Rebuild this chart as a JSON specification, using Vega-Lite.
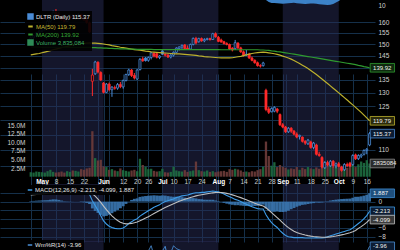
{
"$schema": "https://vega.github.io/schema/vega-lite/v6.json",
"width": 375, "height": 250,
"autosize": {"type": "none"},
"padding": {"left": 0, "top": 0, "right": 25, "bottom": 0},
"background": "#000000",
"config": {
  "view": {"stroke": null},
  "font": "Liberation Sans",
  "axis": {"ticks": false, "domain": false, "labelFont": "Liberation Sans", "labelFontSize": 6.5, "labelColor": "#d2d2d2", "gridColor": "#15304a", "gridWidth": 1, "labelOverlap": false, "labelFlush": false, "labelBound": false},
  "legend": {"labelFont": "Liberation Sans", "labelFontSize": 6, "padding": 2, "rowPadding": -7, "symbolSize": 20, "labelOffset": 2, "labelLimit": 300, "fillColor": "rgba(0,0,0,0.9)", "zindex": 1}
},
"datasets": {
"bands": [{"s":0,"e":22},{"s":43,"e":63},{"s":86,"e":106}],
"tags": [
{"g":"p","i":117,"v":139.92,"t":"139.92","k":"ma200"},
{"g":"p","i":117,"v":119.79,"t":"119.79","k":"ma50"},
{"g":"p","i":117,"v":115.37,"t":"115.37","k":"close"},
{"g":"v","i":117,"v":3835084,"t":"3835084","k":"vol"},
{"g":"m","i":117,"v":1.887,"t":"1.887","k":"hist"},
{"g":"m","i":117,"v":-2.213,"t":"-2.213","k":"macd"},
{"g":"m","i":117,"v":-4.099,"t":"-4.099","k":"sig"},
{"g":"w","i":117,"v":-3.96,"t":"-3.96","k":"wr"}
],
"p": [
{"i":-4,"o":152,"h":153.5,"l":150.8,"c":152.8,"v":1300000,"ma50":145.3,"ma200":148.7,"macd":1.6,"sig":1.5,"hist":0.1,"wr":-20,"top":25},
{"i":-3,"o":152.8,"h":154.2,"l":152,"c":153.6,"v":1200000,"ma50":145.5,"ma200":148.7,"macd":1.7,"sig":1.55,"hist":0.15,"wr":-18,"top":25},
{"i":-2,"o":153.6,"h":155.4,"l":153,"c":155,"v":1500000,"ma50":145.7,"ma200":148.7,"macd":1.8,"sig":1.6,"hist":0.2,"wr":-15,"top":25},
{"i":-1,"o":155,"h":156.3,"l":154.2,"c":155.8,"v":1400000,"ma50":145.9,"ma200":148.7,"macd":1.9,"sig":1.66,"hist":0.24,"wr":-14,"top":25},
{"i":0,"o":155.8,"h":157.6,"l":155.2,"c":157,"v":1300000,"ma50":146.2,"ma200":148.6,"macd":2.0,"sig":1.73,"hist":0.27,"wr":-13,"top":25},
{"i":1,"o":157,"h":158.6,"l":156,"c":158.2,"v":1200000,"ma50":146.5,"ma200":148.6,"macd":2.1,"sig":1.8,"hist":0.3,"wr":-13,"top":25},
{"i":2,"o":158,"h":161,"l":157.5,"c":160.4,"v":1600000,"ma50":146.8,"ma200":148.6,"macd":2.2,"sig":1.88,"hist":0.32,"wr":-12,"top":25},
{"i":3,"o":160.4,"h":163.5,"l":159.8,"c":162.9,"v":2000000,"ma50":147.1,"ma200":148.6,"macd":2.4,"sig":1.98,"hist":0.42,"wr":-12,"top":25},
{"i":4,"o":163,"h":165.4,"l":162.4,"c":164.6,"v":1400000,"ma50":147.5,"ma200":148.6,"macd":2.6,"sig":2.1,"hist":0.5,"wr":-13,"top":25},
{"i":5,"o":164.5,"h":166.2,"l":163.2,"c":163.8,"v":1200000,"ma50":147.8,"ma200":148.6,"macd":2.7,"sig":2.22,"hist":0.48,"wr":-18,"top":25},
{"i":6,"o":163.8,"h":164.6,"l":161.5,"c":162,"v":1300000,"ma50":148.1,"ma200":148.6,"macd":2.7,"sig":2.32,"hist":0.38,"wr":-30,"top":25},
{"i":7,"o":162,"h":163.4,"l":160.6,"c":161.2,"v":1500000,"ma50":148.4,"ma200":148.6,"macd":2.6,"sig":2.37,"hist":0.23,"wr":-40,"top":25},
{"i":8,"o":161.2,"h":162.5,"l":159.8,"c":160.3,"v":1200000,"ma50":148.7,"ma200":148.5,"macd":2.5,"sig":2.4,"hist":0.1,"wr":-50,"top":25},
{"i":9,"o":160.3,"h":162.2,"l":159.9,"c":161.7,"v":1600000,"ma50":149.0,"ma200":148.5,"macd":2.5,"sig":2.42,"hist":0.08,"wr":-35,"top":25},
{"i":10,"o":161.7,"h":163.6,"l":161,"c":162.9,"v":1400000,"ma50":149.3,"ma200":148.5,"macd":2.5,"sig":2.44,"hist":0.06,"wr":-20,"top":25},
{"i":11,"o":162.9,"h":163.8,"l":161.2,"c":161.8,"v":1800000,"ma50":149.6,"ma200":148.5,"macd":2.4,"sig":2.43,"hist":-0.03,"wr":-35,"top":25},
{"i":12,"o":161.8,"h":163.4,"l":161,"c":162.8,"v":1700000,"ma50":149.8,"ma200":148.5,"macd":2.4,"sig":2.42,"hist":-0.02,"wr":-25,"top":25},
{"i":13,"o":162.8,"h":164.2,"l":162,"c":163.5,"v":1500000,"ma50":150.0,"ma200":148.5,"macd":2.4,"sig":2.42,"hist":-0.02,"wr":-18,"top":25},
{"i":14,"o":163.5,"h":164,"l":161.8,"c":162.4,"v":2200000,"ma50":150.2,"ma200":148.5,"macd":2.3,"sig":2.4,"hist":-0.1,"wr":-30,"top":25},
{"i":15,"o":162.4,"h":162.9,"l":160.6,"c":161,"v":2000000,"ma50":150.3,"ma200":148.5,"macd":2.2,"sig":2.36,"hist":-0.16,"wr":-40,"top":25},
{"i":16,"o":161,"h":161.6,"l":159.2,"c":159.8,"v":2400000,"ma50":150.4,"ma200":148.5,"macd":2.0,"sig":2.29,"hist":-0.29,"wr":-55,"top":25},
{"i":17,"o":159.6,"h":160.2,"l":155,"c":155.4,"v":2600000,"ma50":150.5,"ma200":148.5,"macd":1.6,"sig":2.15,"hist":-0.55,"wr":-80,"top":25},
{"i":18,"o":134.5,"h":139.5,"l":128.8,"c":137,"v":13200000,"ma50":150.4,"ma200":148.4,"macd":0.2,"sig":1.76,"hist":-1.56,"wr":-85,"top":25},
{"i":19,"o":137.5,"h":142.8,"l":137,"c":142.3,"v":5400000,"ma50":150.4,"ma200":148.4,"macd":-0.9,"sig":1.23,"hist":-2.13,"wr":-60,"top":25},
{"i":20,"o":142.2,"h":142.6,"l":137.6,"c":138.2,"v":4700000,"ma50":150.3,"ma200":148.3,"macd":-2.0,"sig":0.58,"hist":-2.58,"wr":-75,"top":25},
{"i":21,"o":138,"h":138.5,"l":134.6,"c":135,"v":4900000,"ma50":150.2,"ma200":148.3,"macd":-3.2,"sig":-0.17,"hist":-3.03,"wr":-85,"top":25},
{"i":22,"o":133.8,"h":134.2,"l":129.8,"c":130.2,"v":3000000,"ma50":150.0,"ma200":148.2,"macd":-4.4,"sig":-1.02,"hist":-3.38,"wr":-95,"top":25},
{"i":23,"o":130.2,"h":133.8,"l":129.9,"c":133.4,"v":2800000,"ma50":149.8,"ma200":148.2,"macd":-5.1,"sig":-1.84,"hist":-3.26,"wr":-75,"top":25},
{"i":24,"o":133.4,"h":134,"l":130.6,"c":131.2,"v":2000000,"ma50":149.6,"ma200":148.1,"macd":-5.6,"sig":-2.59,"hist":-3.01,"wr":-85,"top":25},
{"i":25,"o":131.2,"h":132.6,"l":128.5,"c":132.2,"v":2200000,"ma50":149.3,"ma200":148.1,"macd":-5.9,"sig":-3.25,"hist":-2.65,"wr":-70,"top":25},
{"i":26,"o":132,"h":132.8,"l":131.2,"c":131.8,"v":1800000,"ma50":149.1,"ma200":148.0,"macd":-6.1,"sig":-3.82,"hist":-2.28,"wr":-72,"top":25},
{"i":27,"o":131.8,"h":133.8,"l":131.2,"c":133.2,"v":1600000,"ma50":148.9,"ma200":148.0,"macd":-6.2,"sig":-4.3,"hist":-1.9,"wr":-60,"top":25},
{"i":28,"o":133.2,"h":134.2,"l":131.8,"c":132.4,"v":2400000,"ma50":148.6,"ma200":147.9,"macd":-6.2,"sig":-4.68,"hist":-1.52,"wr":-65,"top":25},
{"i":29,"o":132.3,"h":135.2,"l":131.6,"c":134.8,"v":1900000,"ma50":148.4,"ma200":147.9,"macd":-6.0,"sig":-4.94,"hist":-1.06,"wr":-45,"top":25},
{"i":30,"o":134.8,"h":137.5,"l":134.4,"c":137.2,"v":1700000,"ma50":148.2,"ma200":147.9,"macd":-5.6,"sig":-5.07,"hist":-0.53,"wr":-30,"top":25},
{"i":31,"o":137.2,"h":139.5,"l":136.6,"c":139,"v":1500000,"ma50":148.0,"ma200":147.8,"macd":-5.0,"sig":-5.06,"hist":0.06,"wr":-20,"top":25},
{"i":32,"o":139,"h":139.4,"l":136.2,"c":136.8,"v":1800000,"ma50":147.8,"ma200":147.8,"macd":-4.6,"sig":-4.97,"hist":0.37,"wr":-35,"top":25},
{"i":33,"o":136.8,"h":137.8,"l":135.2,"c":135.8,"v":2000000,"ma50":147.6,"ma200":147.8,"macd":-4.2,"sig":-4.82,"hist":0.62,"wr":-40,"top":25},
{"i":34,"o":135.4,"h":139.4,"l":135,"c":139,"v":1600000,"ma50":147.4,"ma200":147.7,"macd":-3.9,"sig":-4.63,"hist":0.73,"wr":-20,"top":25},
{"i":35,"o":139.2,"h":144,"l":138.8,"c":143.4,"v":5200000,"ma50":147.3,"ma200":147.7,"macd":-3.3,"sig":-4.37,"hist":1.07,"wr":-12,"top":25},
{"i":36,"o":143.6,"h":144.5,"l":142.4,"c":142.8,"v":3400000,"ma50":147.1,"ma200":147.7,"macd":-2.9,"sig":-4.07,"hist":1.17,"wr":-18,"top":25},
{"i":37,"o":144,"h":144.4,"l":142.5,"c":142.9,"v":2900000,"ma50":146.9,"ma200":147.7,"macd":-2.5,"sig":-3.76,"hist":1.26,"wr":-20,"top":25},
{"i":38,"o":143,"h":144.6,"l":142.4,"c":144.2,"v":2200000,"ma50":146.8,"ma200":147.7,"macd":-2.1,"sig":-3.43,"hist":1.33,"wr":-12,"top":25},
{"i":39,"o":144.2,"h":146.6,"l":143.4,"c":146.2,"v":2300000,"ma50":146.6,"ma200":147.7,"macd":-1.7,"sig":-3.08,"hist":1.38,"wr":-3,"top":25},
{"i":40,"o":146,"h":146.4,"l":144.2,"c":144.8,"v":1700000,"ma50":146.5,"ma200":147.6,"macd":-1.3,"sig":-2.73,"hist":1.43,"wr":-20,"top":25},
{"i":41,"o":145.8,"h":146.2,"l":143.8,"c":144.3,"v":1500000,"ma50":146.4,"ma200":147.6,"macd":-1.0,"sig":-2.38,"hist":1.38,"wr":-25,"top":25},
{"i":42,"o":144.2,"h":145.2,"l":143.5,"c":144.8,"v":1600000,"ma50":146.3,"ma200":147.6,"macd":-0.7,"sig":-2.04,"hist":1.34,"wr":-18,"top":25},
{"i":43,"o":147,"h":147.6,"l":145.2,"c":145.6,"v":2300000,"ma50":146.2,"ma200":147.6,"macd":-0.3,"sig":-1.7,"hist":1.4,"wr":-12,"top":25},
{"i":44,"o":145.6,"h":146,"l":144.6,"c":145.2,"v":1300000,"ma50":146.1,"ma200":147.6,"macd":0,"sig":-1.36,"hist":1.36,"wr":-4,"top":25},
{"i":45,"o":145.2,"h":145.8,"l":144,"c":144.4,"v":1200000,"ma50":146.0,"ma200":147.6,"macd":0.2,"sig":-1.05,"hist":1.25,"wr":-25,"top":25},
{"i":46,"o":144.4,"h":145.6,"l":143.8,"c":145.2,"v":1400000,"ma50":145.9,"ma200":147.6,"macd":0.4,"sig":-0.76,"hist":1.16,"wr":-15,"top":25},
{"i":47,"o":145.2,"h":146.8,"l":144.6,"c":146.4,"v":2900000,"ma50":145.8,"ma200":147.6,"macd":0.6,"sig":-0.49,"hist":1.09,"wr":-3,"top":25},
{"i":48,"o":146.4,"h":148.6,"l":146,"c":148.2,"v":1800000,"ma50":145.7,"ma200":147.6,"macd":0.9,"sig":-0.21,"hist":1.11,"wr":-8,"top":25},
{"i":49,"o":148,"h":149,"l":147.2,"c":148.7,"v":1600000,"ma50":145.7,"ma200":147.6,"macd":1.1,"sig":0.05,"hist":1.05,"wr":-10,"top":25},
{"i":50,"o":148.7,"h":149.8,"l":147.8,"c":149.4,"v":1500000,"ma50":145.6,"ma200":147.6,"macd":1.3,"sig":0.3,"hist":1.0,"wr":-12,"top":25},
{"i":51,"o":149.6,"h":150,"l":147.6,"c":148,"v":1900000,"ma50":145.5,"ma200":147.6,"macd":1.4,"sig":0.52,"hist":0.88,"wr":-20,"top":25},
{"i":52,"o":148.2,"h":149.4,"l":147.4,"c":147.8,"v":1400000,"ma50":145.4,"ma200":147.6,"macd":1.5,"sig":0.72,"hist":0.78,"wr":-25,"top":25},
{"i":53,"o":147.8,"h":150.2,"l":147.4,"c":149.8,"v":1600000,"ma50":145.3,"ma200":147.6,"macd":1.7,"sig":0.91,"hist":0.79,"wr":-15,"top":25},
{"i":54,"o":149.8,"h":152.9,"l":149.4,"c":152.5,"v":1800000,"ma50":145.2,"ma200":147.6,"macd":1.9,"sig":1.11,"hist":0.79,"wr":-12,"top":25},
{"i":55,"o":152.5,"h":153.2,"l":149.8,"c":150.5,"v":4400000,"ma50":145.1,"ma200":147.6,"macd":2.0,"sig":1.29,"hist":0.71,"wr":-30,"top":25},
{"i":56,"o":151,"h":152.8,"l":150.6,"c":152.4,"v":1900000,"ma50":144.9,"ma200":147.6,"macd":2.0,"sig":1.43,"hist":0.57,"wr":-15,"top":25},
{"i":57,"o":152.4,"h":152.9,"l":151,"c":151.4,"v":1600000,"ma50":144.8,"ma200":147.6,"macd":2.1,"sig":1.57,"hist":0.53,"wr":-20,"top":25},
{"i":58,"o":151.4,"h":152.6,"l":150.8,"c":152,"v":1500000,"ma50":144.6,"ma200":147.6,"macd":2.1,"sig":1.67,"hist":0.43,"wr":-15,"top":25},
{"i":59,"o":152,"h":152.8,"l":151.6,"c":152.4,"v":1800000,"ma50":144.5,"ma200":147.6,"macd":2.2,"sig":1.78,"hist":0.42,"wr":-14,"top":25},
{"i":60,"o":152.4,"h":152.8,"l":151.6,"c":151.9,"v":1400000,"ma50":144.4,"ma200":147.6,"macd":2.3,"sig":1.88,"hist":0.42,"wr":-18,"top":25},
{"i":61,"o":152,"h":155,"l":151.8,"c":154.6,"v":1600000,"ma50":144.3,"ma200":147.6,"macd":2.4,"sig":1.99,"hist":0.41,"wr":-12,"top":25},
{"i":62,"o":154.6,"h":155.2,"l":152.8,"c":153.2,"v":1300000,"ma50":144.2,"ma200":147.6,"macd":2.3,"sig":2.05,"hist":0.25,"wr":-15,"top":25},
{"i":63,"o":153,"h":153.6,"l":150.8,"c":151.2,"v":1500000,"ma50":144.1,"ma200":147.6,"macd":2.2,"sig":2.08,"hist":0.12,"wr":-35,"top":25},
{"i":64,"o":151.8,"h":152.4,"l":150.6,"c":150.9,"v":1600000,"ma50":144.0,"ma200":147.5,"macd":2.0,"sig":2.06,"hist":-0.06,"wr":-40,"top":25},
{"i":65,"o":151,"h":151.4,"l":149.8,"c":150.2,"v":1700000,"ma50":144.0,"ma200":147.5,"macd":1.7,"sig":1.99,"hist":-0.29,"wr":-50,"top":25},
{"i":66,"o":150.2,"h":150.8,"l":149.4,"c":149.8,"v":1400000,"ma50":144.0,"ma200":147.5,"macd":1.4,"sig":1.87,"hist":-0.47,"wr":-55,"top":25},
{"i":67,"o":149.8,"h":150.2,"l":147.4,"c":147.8,"v":2200000,"ma50":144.0,"ma200":147.5,"macd":1.1,"sig":1.72,"hist":-0.62,"wr":-70,"top":25},
{"i":68,"o":148.2,"h":148.6,"l":146.8,"c":147.4,"v":2000000,"ma50":144.1,"ma200":147.5,"macd":0.8,"sig":1.53,"hist":-0.73,"wr":-75,"top":25},
{"i":69,"o":148,"h":151.8,"l":147.4,"c":150.6,"v":2300000,"ma50":144.3,"ma200":147.5,"macd":0.5,"sig":1.33,"hist":-0.83,"wr":-55,"top":25},
{"i":70,"o":150.4,"h":150.8,"l":147.8,"c":148.3,"v":2100000,"ma50":144.5,"ma200":147.5,"macd":0.3,"sig":1.12,"hist":-0.82,"wr":-70,"top":25},
{"i":71,"o":148.3,"h":148.8,"l":146.2,"c":146.6,"v":1800000,"ma50":144.7,"ma200":147.5,"macd":0,"sig":0.9,"hist":-0.9,"wr":-85,"top":25},
{"i":72,"o":146.6,"h":147.2,"l":144.6,"c":145,"v":1400000,"ma50":145.0,"ma200":147.5,"macd":-0.3,"sig":0.66,"hist":-0.96,"wr":-92,"top":25},
{"i":73,"o":145.2,"h":147.4,"l":144.8,"c":145.6,"v":1500000,"ma50":145.3,"ma200":147.5,"macd":-0.6,"sig":0.41,"hist":-1.01,"wr":-85,"top":25},
{"i":74,"o":145.6,"h":146.2,"l":143.6,"c":144,"v":1300000,"ma50":145.6,"ma200":147.5,"macd":-0.9,"sig":0.15,"hist":-1.05,"wr":-90,"top":25},
{"i":75,"o":144,"h":144.6,"l":142.6,"c":143,"v":1600000,"ma50":145.9,"ma200":147.5,"macd":-1.2,"sig":-0.12,"hist":-1.08,"wr":-92,"top":25},
{"i":76,"o":143,"h":143.4,"l":141.6,"c":142,"v":1500000,"ma50":146.1,"ma200":147.5,"macd":-1.4,"sig":-0.38,"hist":-1.02,"wr":-94,"top":25},
{"i":77,"o":142,"h":142.5,"l":140.4,"c":140.8,"v":1900000,"ma50":146.3,"ma200":147.5,"macd":-1.6,"sig":-0.62,"hist":-0.98,"wr":-95,"top":25},
{"i":78,"o":140.8,"h":141.4,"l":140,"c":140.6,"v":2200000,"ma50":146.4,"ma200":147.4,"macd":-1.7,"sig":-0.84,"hist":-0.86,"wr":-92,"top":25},
{"i":79,"o":140.8,"h":142.4,"l":140.4,"c":141.9,"v":2900000,"ma50":146.5,"ma200":147.4,"macd":-1.7,"sig":-1.01,"hist":-0.69,"wr":-85,"top":25},
{"i":80,"o":131,"h":131.6,"l":123.2,"c":123.8,"v":10200000,"ma50":146.4,"ma200":147.3,"macd":-3.0,"sig":-1.41,"hist":-1.59,"wr":-95,"top":15},
{"i":81,"o":124,"h":124.8,"l":122.2,"c":122.8,"v":6000000,"ma50":146.2,"ma200":147.2,"macd":-4.0,"sig":-1.93,"hist":-2.07,"wr":-96,"top":13},
{"i":82,"o":123,"h":124.6,"l":122.8,"c":124.2,"v":3200000,"ma50":146.0,"ma200":147.0,"macd":-4.8,"sig":-2.5,"hist":-2.3,"wr":-85,"top":12},
{"i":83,"o":123.2,"h":125,"l":122.8,"c":124.6,"v":4200000,"ma50":145.8,"ma200":146.9,"macd":-5.4,"sig":-3.08,"hist":-2.32,"wr":-80,"top":12},
{"i":84,"o":124,"h":124.4,"l":122.5,"c":123.2,"v":2800000,"ma50":145.5,"ma200":146.7,"macd":-5.9,"sig":-3.65,"hist":-2.25,"wr":-85,"top":11.8},
{"i":85,"o":122,"h":122.4,"l":118,"c":118.4,"v":3400000,"ma50":145.2,"ma200":146.6,"macd":-6.6,"sig":-4.24,"hist":-2.36,"wr":-95,"top":11.5},
{"i":86,"o":118.4,"h":119,"l":117.2,"c":117.6,"v":2900000,"ma50":144.8,"ma200":146.4,"macd":-7.2,"sig":-4.83,"hist":-2.37,"wr":-96,"top":11.2},
{"i":87,"o":117.6,"h":118,"l":115.6,"c":116,"v":2600000,"ma50":144.4,"ma200":146.2,"macd":-7.7,"sig":-5.4,"hist":-2.3,"wr":-97,"top":11.4},
{"i":88,"o":116,"h":117.6,"l":115.6,"c":117.2,"v":2100000,"ma50":144.0,"ma200":146.0,"macd":-8.0,"sig":-5.92,"hist":-2.08,"wr":-85,"top":11.8},
{"i":89,"o":117.2,"h":117.6,"l":115.6,"c":116.2,"v":2400000,"ma50":143.5,"ma200":145.8,"macd":-8.1,"sig":-6.36,"hist":-1.74,"wr":-90,"top":12},
{"i":90,"o":116.2,"h":116.6,"l":114.8,"c":115.2,"v":2200000,"ma50":142.9,"ma200":145.6,"macd":-8.2,"sig":-6.73,"hist":-1.47,"wr":-93,"top":12.2},
{"i":91,"o":115.2,"h":115.8,"l":113.8,"c":114.2,"v":2800000,"ma50":142.3,"ma200":145.4,"macd":-8.2,"sig":-7.02,"hist":-1.18,"wr":-95,"top":11.8},
{"i":92,"o":114.4,"h":115,"l":113.4,"c":114.8,"v":2000000,"ma50":141.7,"ma200":145.2,"macd":-8.2,"sig":-7.26,"hist":-0.94,"wr":-85,"top":11.4},
{"i":93,"o":114.2,"h":114.4,"l":112.4,"c":112.8,"v":2600000,"ma50":141.0,"ma200":145.0,"macd":-8.2,"sig":-7.45,"hist":-0.75,"wr":-96,"top":11.2},
{"i":94,"o":112.8,"h":113.2,"l":111.6,"c":112.2,"v":2200000,"ma50":140.3,"ma200":144.8,"macd":-8.3,"sig":-7.62,"hist":-0.68,"wr":-95,"top":11},
{"i":95,"o":112,"h":113.6,"l":111.6,"c":113.2,"v":2800000,"ma50":139.6,"ma200":144.6,"macd":-8.3,"sig":-7.75,"hist":-0.55,"wr":-80,"top":11.2},
{"i":96,"o":112.6,"h":113,"l":110.4,"c":110.8,"v":2400000,"ma50":138.8,"ma200":144.4,"macd":-8.3,"sig":-7.86,"hist":-0.44,"wr":-95,"top":11.4},
{"i":97,"o":110.8,"h":112.6,"l":110.2,"c":112.2,"v":2200000,"ma50":138.0,"ma200":144.2,"macd":-8.3,"sig":-7.95,"hist":-0.35,"wr":-75,"top":11.6},
{"i":98,"o":111.6,"h":112,"l":108.2,"c":108.6,"v":2700000,"ma50":137.2,"ma200":144.0,"macd":-8.2,"sig":-8.0,"hist":-0.2,"wr":-96,"top":11.2},
{"i":99,"o":108.6,"h":109.4,"l":107.8,"c":108.2,"v":2300000,"ma50":136.3,"ma200":143.8,"macd":-8.3,"sig":-8.06,"hist":-0.24,"wr":-95,"top":10.8},
{"i":100,"o":107.6,"h":108,"l":104.2,"c":104.6,"v":3000000,"ma50":135.4,"ma200":143.6,"macd":-8.3,"sig":-8.11,"hist":-0.19,"wr":-97,"top":10.4},
{"i":101,"o":104.4,"h":106.4,"l":104,"c":106,"v":4400000,"ma50":134.5,"ma200":143.4,"macd":-8.2,"sig":-8.13,"hist":-0.07,"wr":-80,"top":10.2},
{"i":102,"o":106,"h":106.6,"l":104.8,"c":105.2,"v":3200000,"ma50":133.6,"ma200":143.2,"macd":-8.0,"sig":-8.1,"hist":0.1,"wr":-85,"top":10},
{"i":103,"o":105,"h":106.8,"l":104.6,"c":106.4,"v":4000000,"ma50":132.7,"ma200":143.0,"macd":-7.8,"sig":-8.04,"hist":0.24,"wr":-75,"top":10.3},
{"i":104,"o":106.4,"h":106.8,"l":104.4,"c":105,"v":2800000,"ma50":131.8,"ma200":142.8,"macd":-7.6,"sig":-7.95,"hist":0.35,"wr":-82,"top":11},
{"i":105,"o":105,"h":106,"l":104.2,"c":105.6,"v":3200000,"ma50":130.9,"ma200":142.6,"macd":-7.4,"sig":-7.84,"hist":0.44,"wr":-75,"top":12.5},
{"i":106,"o":105.6,"h":106.2,"l":104.4,"c":104.8,"v":2600000,"ma50":130.0,"ma200":142.4,"macd":-7.2,"sig":-7.71,"hist":0.51,"wr":-80,"top":14},
{"i":107,"o":104.6,"h":105,"l":103.2,"c":103.6,"v":3000000,"ma50":129.1,"ma200":142.2,"macd":-7.0,"sig":-7.57,"hist":0.57,"wr":-95,"top":16},
{"i":108,"o":103.8,"h":105.8,"l":103.4,"c":105.4,"v":3400000,"ma50":128.2,"ma200":142.0,"macd":-6.8,"sig":-7.42,"hist":0.62,"wr":-70,"top":25},
{"i":109,"o":105.4,"h":106,"l":104.6,"c":105,"v":2600000,"ma50":127.3,"ma200":141.8,"macd":-6.6,"sig":-7.25,"hist":0.65,"wr":-75,"top":25},
{"i":110,"o":105.8,"h":106.2,"l":104.6,"c":104.9,"v":3000000,"ma50":126.4,"ma200":141.6,"macd":-6.4,"sig":-7.08,"hist":0.68,"wr":-72,"top":25},
{"i":111,"o":105.4,"h":108.6,"l":105,"c":108.2,"v":3400000,"ma50":125.5,"ma200":141.4,"macd":-6.0,"sig":-6.87,"hist":0.87,"wr":-35,"top":25},
{"i":112,"o":108.4,"h":108.8,"l":106.8,"c":107.2,"v":2800000,"ma50":124.6,"ma200":141.2,"macd":-5.5,"sig":-6.59,"hist":1.09,"wr":-45,"top":25},
{"i":113,"o":107.2,"h":108.6,"l":106.8,"c":108.2,"v":3600000,"ma50":123.7,"ma200":140.9,"macd":-5.0,"sig":-6.1,"hist":1.1,"wr":-30,"top":25},
{"i":114,"o":108,"h":108.8,"l":107.4,"c":108.4,"v":4400000,"ma50":122.8,"ma200":140.7,"macd":-4.5,"sig":-5.7,"hist":1.2,"wr":-25,"top":25},
{"i":115,"o":108.6,"h":110.2,"l":108.2,"c":109.8,"v":4000000,"ma50":121.8,"ma200":140.4,"macd":-3.9,"sig":-5.25,"hist":1.35,"wr":-18,"top":25},
{"i":116,"o":109.8,"h":110.6,"l":108.6,"c":110.2,"v":4800000,"ma50":120.8,"ma200":140.2,"macd":-3.2,"sig":-4.75,"hist":1.55,"wr":-14,"top":25},
{"i":117,"o":111.6,"h":115.9,"l":111.2,"c":115.37,"v":3835084,"ma50":119.79,"ma200":139.92,"macd":-2.213,"sig":-4.099,"hist":1.887,"wr":-3.96,"top":25}
]
},
"layer": [
{"data": {"name": "bands"}, "mark": {"type": "rect", "color": "#282c56", "opacity": 0.5},
 "encoding": {
  "x": {"field": "s", "type": "quantitative", "title": null, "scale": {"domain": [-13.2, 117.15], "nice": false, "zero": false},
   "axis": {"orient": "bottom", "offset": -74, "grid": true, "gridColor": "#15304a", "tickCount": 200, "labelPadding": 2, "labelOverlap": false, "labelFlush": false, "labelBound": false,
    "values": [-4,0,5,10,15,20,22,24,29,34,38,43,47,52,57,62,63,67,72,77,82,86,87,91,96,101,106,111,116],
    "labelExpr": "['','May','8','15','22','','Jun','','12','20','26','Jul','10','17','24','','Aug','7','14','21','28','Sep','','11','18','25','Oct','9','16'][indexof([-4,0,5,10,15,20,22,24,29,34,38,43,47,52,57,62,63,67,72,77,82,86,87,91,96,101,106,111,116], datum.value)]",
    "labelColor": {"condition": {"test": "indexof([0,22,43,63,86,106], datum.value) >= 0", "value": "#ffffff"}, "value": "#cfcfcf"},
    "labelFontWeight": {"condition": {"test": "indexof([0,22,43,63,86,106], datum.value) >= 0", "value": "bold"}, "value": "normal"}}},
  "x2": {"field": "e"},
  "y": {"datum": 101.9, "type": "quantitative", "scale": {"type": "log", "domain": [101.9, 166.7], "range": [176, 8], "nice": false, "zero": false}, "axis": null},
  "y2": {"datum": 175}
 }},
{"data": {"name": "bands"}, "mark": {"type": "rect", "color": "#282c56", "opacity": 0.5},
 "encoding": {
  "x": {"field": "s", "type": "quantitative", "title": null, "scale": {"domain": [-13.2, 117.15], "nice": false, "zero": false}},
  "x2": {"field": "e"},
  "y": {"datum": -9.2, "type": "quantitative", "scale": {"domain": [-9.2, 4], "range": [242, 184], "nice": false, "zero": false}, "axis": null},
  "y2": {"datum": 4}
 }},
{"data": {"name": "bands"}, "mark": {"type": "rect", "color": "#282c56", "opacity": 0.5},
 "encoding": {
  "x": {"field": "s", "type": "quantitative", "title": null, "scale": {"domain": [-13.2, 117.15], "nice": false, "zero": false}},
  "x2": {"field": "e"},
  "y": {"datum": -100, "type": "quantitative", "scale": {"domain": [-100, 0], "range": [302, 244], "nice": false, "zero": false}, "axis": null},
  "y2": {"datum": 5}
 }},
{"data": {"name": "p"}, "mark": {"type": "area", "color": "#3c82c8", "opacity": 1},
 "encoding": {
  "x": {"field": "i", "type": "quantitative", "title": null, "scale": {"domain": [-13.2, 117.15], "nice": false, "zero": false}},
  "y": {"field": "top", "type": "quantitative", "title": null, "scale": {"domain": [0, 20], "range": [15, -5], "nice": false, "zero": false}, "axis": {"orient": "right", "values": [10], "grid": false, "labelPadding": 3}},
  "y2": {"datum": 30}
 }},
{"data": {"name": "p"},
 "layer": [
  {"transform": [{"window": [{"op": "lag", "field": "c", "as": "pc"}], "sort": [{"field": "i"}]}],
   "mark": {"type": "bar", "size": 2.3, "opacity": 0.9},
   "encoding": {
    "x": {"field": "i", "type": "quantitative", "title": null, "scale": {"domain": [-13.2, 117.15], "nice": false, "zero": false}},
    "y": {"field": "v", "type": "quantitative", "title": null, "scale": {"domain": [0, 15000000], "range": [176.7, 125], "nice": false, "zero": false},
     "axis": {"orient": "left", "offset": -27, "grid": false, "tickCount": 50, "labelPadding": 2, "values": [2500000,5000000,7500000,10000000,12500000,15000000], "labelExpr": "format(datum.value/1000000, '.1f') + 'M'"}},
    "y2": {"datum": 0},
    "fill": {"condition": {"test": "datum.pc != null && datum.c < datum.pc", "value": "#6e3c3a"}, "value": "#1e6e40"}
   }},
  {"data": {"name": "tags"}, "transform": [{"filter": "datum.g == 'v'"}],
   "mark": {"type": "point", "shape": "M0.05,-0.36L2.08,-0.36L2.08,0.36L0.05,0.36Z", "size": 576, "filled": true, "opacity": 1, "strokeWidth": 0.8, "fill": "#2b2b2b", "stroke": "#8a8a8a"},
   "encoding": {
    "x": {"field": "i", "type": "quantitative", "title": null, "scale": {"domain": [-13.2, 117.15], "nice": false, "zero": false}},
    "y": {"field": "v", "type": "quantitative", "title": null, "scale": {"domain": [0, 15000000], "range": [176.7, 125], "nice": false, "zero": false}}
   }},
  {"data": {"name": "tags"}, "transform": [{"filter": "datum.g == 'v'"}],
   "mark": {"type": "text", "align": "left", "baseline": "middle", "dx": 3.5, "fontSize": 6, "color": "#e8e8e8"},
   "encoding": {
    "x": {"field": "i", "type": "quantitative", "title": null, "scale": {"domain": [-13.2, 117.15], "nice": false, "zero": false}},
    "y": {"field": "v", "type": "quantitative", "title": null, "scale": {"domain": [0, 15000000], "range": [176.7, 125], "nice": false, "zero": false}},
    "text": {"field": "t"}
   }}
 ]},
{"data": {"name": "p"},
 "layer": [
  {"transform": [{"window": [{"op": "lag", "field": "c", "as": "pc"}], "sort": [{"field": "i"}]}],
   "mark": {"type": "rule", "strokeWidth": 1},
   "encoding": {
    "x": {"field": "i", "type": "quantitative", "title": null, "scale": {"domain": [-13.2, 117.15], "nice": false, "zero": false}},
    "y": {"field": "l", "type": "quantitative", "title": null, "scale": {"type": "log", "domain": [101.9, 166.7], "range": [176, 8], "nice": false, "zero": false},
     "axis": {"orient": "right", "grid": true, "gridColor": "#15304a", "tickCount": 50, "labelPadding": 3, "values": [105,110,115,120,125,130,135,140,145,150,155,160],
      "labelExpr": "indexof([105,115,120,140], datum.value) >= 0 ? '' : format(datum.value, 'd')"}},
    "y2": {"field": "h"},
    "stroke": {"condition": {"test": "datum.pc != null && datum.c < datum.pc", "value": "#ff2a2a"}, "value": "#4a8cd6"}
   }},
  {"transform": [{"window": [{"op": "lag", "field": "c", "as": "pc"}], "sort": [{"field": "i"}]}],
   "mark": {"type": "bar", "size": 2, "strokeWidth": 0.8},
   "encoding": {
    "x": {"field": "i", "type": "quantitative", "title": null, "scale": {"domain": [-13.2, 117.15], "nice": false, "zero": false}},
    "y": {"field": "o", "type": "quantitative", "title": null, "scale": {"type": "log", "domain": [101.9, 166.7], "range": [176, 8], "nice": false, "zero": false}},
    "y2": {"field": "c"},
    "stroke": {"condition": {"test": "datum.pc != null && datum.c < datum.pc", "value": "#ff2a2a"}, "value": "#4a8cd6"},
    "fill": {"condition": [{"test": "datum.c > datum.o", "value": "#06070f"}, {"test": "datum.pc != null && datum.c < datum.pc", "value": "#ff2a2a"}], "value": "#4a8cd6"}
   }},
  {"transform": [{"fold": ["ma50", "ma200"], "as": ["k", "val"]}],
   "mark": {"type": "line", "strokeWidth": 1.2},
   "encoding": {
    "x": {"field": "i", "type": "quantitative", "title": null, "scale": {"domain": [-13.2, 117.15], "nice": false, "zero": false}},
    "y": {"field": "val", "type": "quantitative", "title": null, "scale": {"type": "log", "domain": [101.9, 166.7], "range": [176, 8], "nice": false, "zero": false}},
    "color": {"field": "k", "type": "nominal",
     "scale": {"domain": ["c", "ma50", "ma200", "vol"], "range": ["#4a8cd6", "#bdb12d", "#2f9a2f", "#2e8b57"]},
     "legend": {"orient": "none", "legendX": 25, "legendY": 11, "title": null, "direction": "vertical", "symbolType": "stroke", "symbolStrokeWidth": 2, "symbolSize": 20, "rowPadding": -7,
      "labelExpr": "datum.value == 'c' ? 'DLTR (Daily) 115.37' : datum.value == 'ma50' ? 'MA(50) 119.79' : datum.value == 'ma200' ? 'MA(200) 139.92' : 'Volume 3,835,084'",
      "encode": {
       "labels": {"update": {"fill": {"signal": "datum.value == 'ma50' ? '#c8bb30' : datum.value == 'ma200' ? '#35a835' : datum.value == 'vol' ? '#3cb064' : '#e8e8e8'"}}},
       "symbols": {"update": {"shape": {"signal": "datum.value == 'ma50' || datum.value == 'ma200' ? 'stroke' : 'square'"}, "fill": {"signal": "datum.value == 'c' ? '#4a8cd6' : datum.value == 'vol' ? '#2e8b57' : 'transparent'"}}}
      }}}
   }},
  {"data": {"name": "tags"}, "transform": [{"filter": "datum.g == 'p'"}],
   "mark": {"type": "point", "shape": "M0.05,-0.36L2.08,-0.36L2.08,0.36L0.05,0.36Z", "size": 576, "filled": true, "opacity": 1, "strokeWidth": 0.8},
   "encoding": {
    "x": {"field": "i", "type": "quantitative", "title": null, "scale": {"domain": [-13.2, 117.15], "nice": false, "zero": false}},
    "y": {"field": "v", "type": "quantitative", "title": null, "scale": {"type": "log", "domain": [101.9, 166.7], "range": [176, 8], "nice": false, "zero": false}},
    "fill": {"condition": [{"test": "datum.k == 'ma200'", "value": "#0f2a0f"}, {"test": "datum.k == 'ma50'", "value": "#2b2a0c"}], "value": "#0c1c33"},
    "stroke": {"condition": [{"test": "datum.k == 'ma200'", "value": "#2f9a2f"}, {"test": "datum.k == 'ma50'", "value": "#bdb12d"}], "value": "#4a8cd6"}
   }},
  {"data": {"name": "tags"}, "transform": [{"filter": "datum.g == 'p'"}],
   "mark": {"type": "text", "align": "left", "baseline": "middle", "dx": 3.5, "fontSize": 6, "color": "#f0f0f0"},
   "encoding": {
    "x": {"field": "i", "type": "quantitative", "title": null, "scale": {"domain": [-13.2, 117.15], "nice": false, "zero": false}},
    "y": {"field": "v", "type": "quantitative", "title": null, "scale": {"type": "log", "domain": [101.9, 166.7], "range": [176, 8], "nice": false, "zero": false}},
    "text": {"field": "t"}
   }}
 ]},
{"data": {"name": "p"},
 "layer": [
  {"mark": {"type": "bar", "size": 2.9, "color": "#3b78b2", "opacity": 0.9},
   "encoding": {
    "x": {"field": "i", "type": "quantitative", "title": null, "scale": {"domain": [-13.2, 117.15], "nice": false, "zero": false}},
    "y": {"field": "hist", "type": "quantitative", "title": null, "scale": {"domain": [-9.2, 4], "range": [242, 184], "nice": false, "zero": false},
     "axis": {"orient": "right", "grid": true, "gridColor": "#15304a", "tickCount": 50, "labelPadding": 3, "values": [-8,-6,-4,-2,0,2], "labelExpr": "indexof([-4,-2,2], datum.value) >= 0 ? '' : format(datum.value, 'd')"}},
    "y2": {"datum": 0}
   }},
  {"transform": [{"fold": ["macd", "sig"], "as": ["k", "val"]}],
   "mark": {"type": "line", "strokeWidth": 1.1},
   "encoding": {
    "x": {"field": "i", "type": "quantitative", "title": null, "scale": {"domain": [-13.2, 117.15], "nice": false, "zero": false}},
    "y": {"field": "val", "type": "quantitative", "title": null, "scale": {"domain": [-9.2, 4], "range": [242, 184], "nice": false, "zero": false}},
    "stroke": {"field": "k", "type": "nominal", "scale": {"domain": ["macd", "sig"], "range": ["#3d9be6", "#c0c0c0"]},
     "legend": {"orient": "none", "legendX": 25, "legendY": 185, "title": null, "values": ["macd"], "symbolType": "stroke", "symbolStrokeWidth": 1.5, "symbolSize": 20, "labelColor": "#e6e6e6", "labelExpr": "'MACD(12,26,9) -2.213, -4.099, 1.887'"}}
   }},
  {"data": {"name": "tags"}, "transform": [{"filter": "datum.g == 'm'"}],
   "mark": {"type": "point", "shape": "M0.05,-0.36L2.08,-0.36L2.08,0.36L0.05,0.36Z", "size": 576, "filled": true, "opacity": 1, "strokeWidth": 0.8},
   "encoding": {
    "x": {"field": "i", "type": "quantitative", "title": null, "scale": {"domain": [-13.2, 117.15], "nice": false, "zero": false}},
    "y": {"field": "v", "type": "quantitative", "title": null, "scale": {"domain": [-9.2, 4], "range": [242, 184], "nice": false, "zero": false}},
    "fill": {"condition": [{"test": "datum.k == 'hist'", "value": "#1f4f7d"}, {"test": "datum.k == 'sig'", "value": "#3a3a3a"}], "value": "#0c1c33"},
    "stroke": {"condition": [{"test": "datum.k == 'hist'", "value": "#3d8bd0"}, {"test": "datum.k == 'sig'", "value": "#c0c0c0"}], "value": "#3d9be6"}
   }},
  {"data": {"name": "tags"}, "transform": [{"filter": "datum.g == 'm'"}],
   "mark": {"type": "text", "align": "left", "baseline": "middle", "dx": 3.5, "fontSize": 6, "color": "#f0f0f0"},
   "encoding": {
    "x": {"field": "i", "type": "quantitative", "title": null, "scale": {"domain": [-13.2, 117.15], "nice": false, "zero": false}},
    "y": {"field": "v", "type": "quantitative", "title": null, "scale": {"domain": [-9.2, 4], "range": [242, 184], "nice": false, "zero": false}},
    "text": {"field": "t"}
   }}
 ]},
{"data": {"name": "p"},
 "layer": [
  {"transform": [{"fold": ["wr"], "as": ["k", "val"]}],
   "mark": {"type": "line", "strokeWidth": 1, "color": "#4a90d8"},
   "encoding": {
    "x": {"field": "i", "type": "quantitative", "title": null, "scale": {"domain": [-13.2, 117.15], "nice": false, "zero": false}},
    "y": {"field": "val", "type": "quantitative", "title": null, "scale": {"domain": [-100, 0], "range": [302, 244], "nice": false, "zero": false}, "axis": null},
    "strokeDash": {"field": "k", "type": "nominal", "scale": {"domain": ["wr"], "range": [[1, 0]]},
     "legend": {"orient": "none", "legendX": 25, "legendY": 240, "title": null, "symbolType": "stroke", "symbolStrokeColor": "#4a90d8", "symbolStrokeWidth": 1.5, "symbolSize": 20, "labelColor": "#e6e6e6", "labelExpr": "'Wm%R(14) -3.96'"}}
   }},
  {"data": {"name": "tags"}, "transform": [{"filter": "datum.g == 'w'"}],
   "mark": {"type": "point", "shape": "M0.05,-0.36L2.08,-0.36L2.08,0.36L0.05,0.36Z", "size": 576, "filled": true, "opacity": 1, "strokeWidth": 0.8, "fill": "#0c1c33", "stroke": "#4a90d8"},
   "encoding": {
    "x": {"field": "i", "type": "quantitative", "title": null, "scale": {"domain": [-13.2, 117.15], "nice": false, "zero": false}},
    "y": {"field": "v", "type": "quantitative", "title": null, "scale": {"domain": [-100, 0], "range": [302, 244], "nice": false, "zero": false}, "axis": null}
   }},
  {"data": {"name": "tags"}, "transform": [{"filter": "datum.g == 'w'"}],
   "mark": {"type": "text", "align": "left", "baseline": "middle", "dx": 3.5, "fontSize": 6, "color": "#f0f0f0"},
   "encoding": {
    "x": {"field": "i", "type": "quantitative", "title": null, "scale": {"domain": [-13.2, 117.15], "nice": false, "zero": false}},
    "y": {"field": "v", "type": "quantitative", "title": null, "scale": {"domain": [-100, 0], "range": [302, 244], "nice": false, "zero": false}, "axis": null},
    "text": {"field": "t"}
   }}
 ]}
],
"resolve": {"scale": {"y": "independent"}, "axis": {"y": "independent"}}
}
